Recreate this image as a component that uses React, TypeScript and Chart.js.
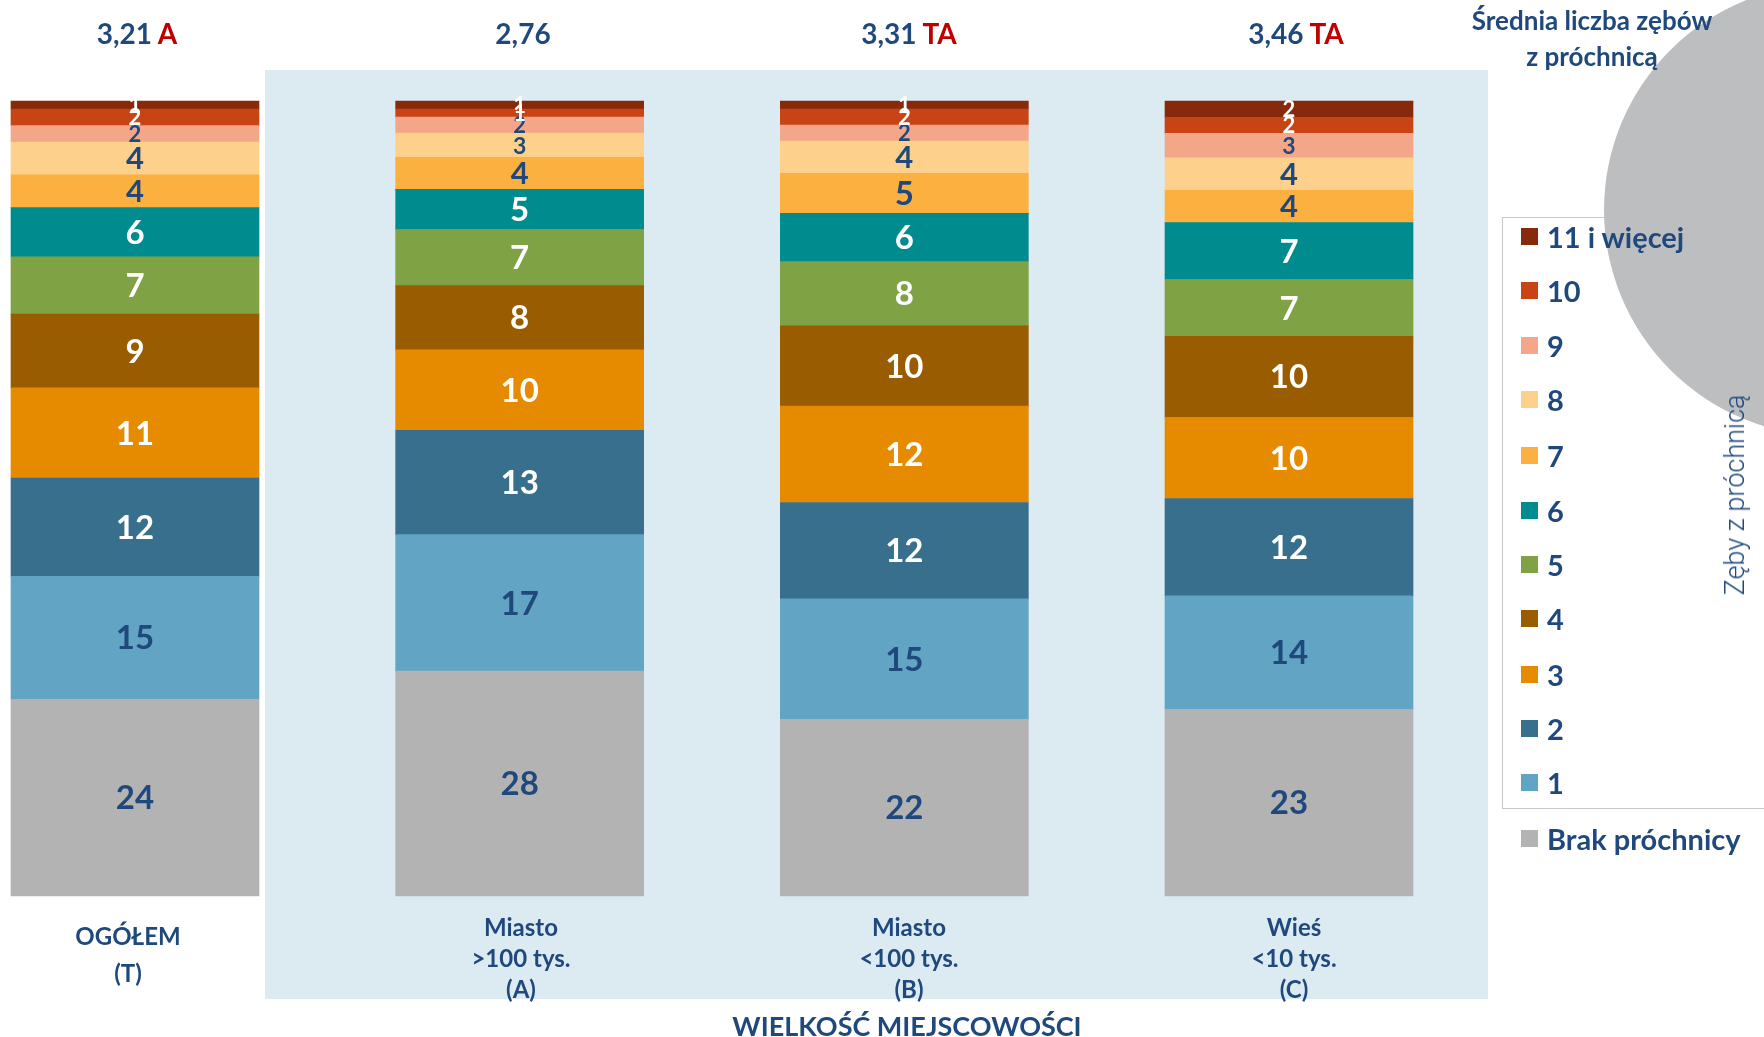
import React, { useEffect, useRef } from "react";
import { Chart, registerables } from "chart.js";

Chart.register(...registerables);

// ---- data ----
const categories = ["OGÓŁEM (T)", "Miasto >100 tys. (A)", "Miasto <100 tys. (B)", "Wieś <10 tys. (C)"];
const categoryLines = [
  ["OGÓŁEM", "(T)"],
  ["Miasto", ">100 tys.", "(A)"],
  ["Miasto", "<100 tys.", "(B)"],
  ["Wieś", "<10 tys.", "(C)"],
];
const averages = ["3,21", "2,76", "3,31", "3,46"];
const significance = ["A", "", "TA", "TA"];

const seriesNames = ["Brak próchnicy", "1", "2", "3", "4", "5", "6", "7", "8", "9", "10", "11 i więcej"];
const sBrak = [24, 28, 22, 23];
const s1 = [15, 17, 15, 14];
const s2 = [12, 13, 12, 12];
const s3 = [11, 10, 12, 10];
const s4 = [9, 8, 10, 10];
const s5 = [7, 7, 8, 7];
const s6 = [6, 5, 6, 7];
const s7 = [4, 4, 5, 4];
const s8 = [4, 3, 4, 4];
const s9 = [2, 2, 2, 3];
const s10 = [2, 1, 2, 2];
const s11 = [1, 1, 1, 2];
const seriesValues = [sBrak, s1, s2, s3, s4, s5, s6, s7, s8, s9, s10, s11];

const seriesColors = [
  "#B3B3B3", "#62A4C4", "#376F8C", "#E68A00", "#995C00", "#7EA244",
  "#008C8F", "#FBB040", "#FDD08C", "#F4A688", "#C84414", "#872A0C",
];
const labelColors = [
  "#1F497D", "#1F497D", "#FFFFFF", "#FFFFFF", "#FFFFFF", "#FFFFFF",
  "#FFFFFF", "#1F497D", "#1F497D", "#1F497D", "#FFFFFF", "#FFFFFF",
];

const NAVY = "#1F497D";
const RED = "#C00000";
const FONT = "Lato, 'Open Sans', sans-serif";

const W = 1764;
const H = 1037;

export default function App() {
  const ref = useRef<HTMLCanvasElement | null>(null);

  useEffect(() => {
    document.body.style.margin = "0";
    const canvas = ref.current;
    if (!canvas) return;

    const totals = categories.map((_, i) => seriesValues.reduce((s, arr) => s + arr[i], 0));

    const bgPlugin = {
      id: "bg",
      beforeDraw(chart: any) {
        const ctx = chart.ctx;
        ctx.save();
        ctx.fillStyle = "#FFFFFF";
        ctx.fillRect(0, 0, W, H);
        ctx.fillStyle = "#DCEAF2";
        ctx.fillRect(265, 70, 1223, 929);
        ctx.strokeStyle = "#C8C8C8";
        ctx.lineWidth = 1;
        ctx.strokeRect(1502.5, 217.5, 300, 591);
        ctx.fillStyle = "#BDBEC0";
        ctx.beginPath();
        ctx.arc(1830, 210, 226, 0, Math.PI * 2);
        ctx.fill();
        ctx.beginPath();
        ctx.arc(1795, -25, 55, 0, Math.PI * 2);
        ctx.fill();
        ctx.restore();
      },
    };

    const labelPlugin = {
      id: "segLabels",
      afterDatasetsDraw(chart: any) {
        const ctx = chart.ctx;
        ctx.save();
        ctx.textAlign = "center";
        ctx.textBaseline = "middle";
        chart.data.datasets.forEach((ds: any, di: number) => {
          const meta = chart.getDatasetMeta(di);
          meta.data.forEach((bar: any, i: number) => {
            const h = Math.abs(bar.base - bar.y);
            const size = Math.round(Math.max(22, Math.min(33, h * 0.95)));
            ctx.font = `bold ${size}px ${FONT}`;
            ctx.fillStyle = labelColors[di];
            ctx.fillText(String(seriesValues[di][i]), bar.x, (bar.y + bar.base) / 2 + 1);
          });
        });
        ctx.restore();
      },
    };

    const chart = new Chart(canvas, {
      type: "bar",
      data: {
        labels: categories,
        datasets: seriesValues.map((vals, di) => ({
          label: seriesNames[di],
          data: vals.map((v, i) => (v / totals[i]) * 100),
          backgroundColor: seriesColors[di],
          borderWidth: 0,
          barThickness: 248,
          clip: false as any,
        })),
      },
      options: {
        responsive: false,
        animation: false,
        layout: { padding: { left: 135, right: 475, top: 101, bottom: 141 } },
        plugins: { legend: { display: false }, tooltip: { enabled: false }, title: { display: false } },
        scales: {
          x: { stacked: true, display: false, offset: false, grid: { display: false } },
          y: { stacked: true, display: false, min: 0, max: 100 },
        },
      },
      plugins: [bgPlugin, labelPlugin],
    });
    return () => chart.destroy();
  }, []);

  const abs = (x: number, y: number, extra: React.CSSProperties = {}): React.CSSProperties => ({
    position: "absolute",
    left: x,
    top: y,
    transform: "translate(-50%, -50%)",
    whiteSpace: "nowrap",
    fontFamily: FONT,
    fontWeight: 700,
    color: NAVY,
    lineHeight: 1,
    ...extra,
  });

  const avgX = [137, 523, 909, 1296];
  const catX = [128, 521, 909, 1294];
  const legendY = [236, 290, 345, 399, 455, 510, 564, 618, 674, 728, 782];

  const legendRow = (y: number): React.CSSProperties => ({
    position: "absolute",
    left: 1521,
    top: y - 16,
    height: 32,
    display: "flex",
    alignItems: "center",
    fontFamily: FONT,
    fontWeight: 700,
    fontSize: 29,
    color: NAVY,
    whiteSpace: "nowrap",
  });

  return (
    <div style={{ position: "relative", width: W, height: H, overflow: "hidden", background: "#fff" }}>
      <canvas ref={ref} width={W} height={H} style={{ width: W, height: H, display: "block" }} />
      {averages.map((a, i) => (
        <div key={"avg" + i} style={abs(avgX[i], 33, { fontSize: 28 })}>
          {a}
          {significance[i] ? <span style={{ color: RED }}>{" " + significance[i]}</span> : null}
        </div>
      ))}
      {categoryLines.map((lines, i) => (
        <div
          key={"cat" + i}
          style={abs(catX[i], i === 0 ? 954 : 957, { fontSize: 24, textAlign: "center", lineHeight: "31px" })}
        >
          {lines.map((l, j) => (
            <div key={j} style={i === 0 && j === 1 ? { marginTop: 6 } : {}}>{l}</div>
          ))}
        </div>
      ))}
      <div style={abs(907, 1025, { fontSize: 27 })}>WIELKOŚĆ MIEJSCOWOŚCI</div>
      <div style={abs(1592, 38, { fontSize: 26, textAlign: "center", lineHeight: "36px" })}>
        <div>Średnia liczba zębów</div>
        <div>z próchnicą</div>
      </div>
      {seriesNames
        .slice(1)
        .map((name, k) => ({ name, idx: k + 1 }))
        .reverse()
        .map((it, r) => (
          <div key={"lg" + it.idx} style={legendRow(legendY[r])}>
            <span style={{ display: "inline-block", width: 17, height: 17, background: seriesColors[it.idx], marginRight: 9 }} />
            {it.name}
          </div>
        ))}
      <div style={legendRow(838)}>
        <span style={{ display: "inline-block", width: 17, height: 17, background: seriesColors[0], marginRight: 9 }} />
        {seriesNames[0]}
      </div>
      <div
        style={{
          position: "absolute",
          left: 1735,
          top: 495,
          transform: "translate(-50%, -50%) rotate(-90deg)",
          whiteSpace: "nowrap",
          fontFamily: "Roboto, sans-serif",
          fontWeight: 300,
          fontSize: 27,
          color: NAVY,
        }}
      >
        Zęby z próchnicą
      </div>
    </div>
  );
}
